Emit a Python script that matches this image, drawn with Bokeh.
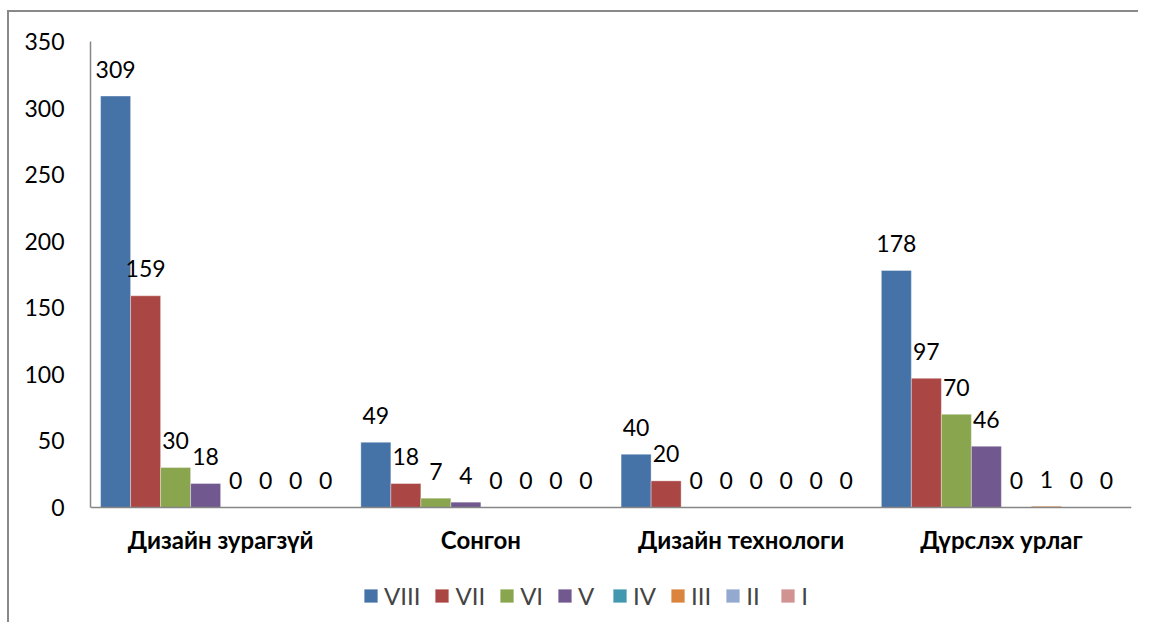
from bokeh.plotting import figure
from bokeh.models import ColumnDataSource, FactorRange, Range1d, FixedTicker, Legend, LegendItem, Span
from bokeh.transform import dodge
from bokeh.core.properties import value
from bokeh.embed import file_html
from bokeh.resources import INLINE

categories = ["Дизайн зурагзүй", "Сонгон", "Дизайн технологи", "Дүрслэх урлаг"]
series_names = ["VIII", "VII", "VI", "V", "IV", "III", "II", "I"]
VIII = [309, 49, 40, 178]
VII = [159, 18, 20, 97]
VI = [30, 7, 0, 70]
V = [18, 4, 0, 46]
IV = [0, 0, 0, 0]
III = [0, 0, 0, 1]
II = [0, 0, 0, 0]
I = [0, 0, 0, 0]
series_values = [VIII, VII, VI, V, IV, III, II, I]
y_ticks = [0, 50, 100, 150, 200, 250, 300, 350]
y_max = 350

colors = ["#4572A7", "#AA4643", "#89A54E", "#71588F", "#4198AF", "#DB843D", "#93A9CF", "#D19392"]

FONT = "Lato"

data = {"cat": categories}
for name, vals in zip(series_names, series_values):
    data[name] = vals
    data[name + "_lbl"] = [str(v) for v in vals]
source = ColumnDataSource(data)

# frame extends below the value axis so that the legend fits inside it
px_per_unit = 466 / y_max
frame_h = 612 - 29 - 4
y_min = y_max - frame_h / px_per_unit

p = figure(x_range=FactorRange(factors=categories, range_padding=0),
           y_range=Range1d(y_min, y_max),
           width=1131, height=612,
           output_backend="svg", toolbar_location=None,
           min_border_left=81, min_border_right=9,
           min_border_top=29, min_border_bottom=4)
p.styles = {"margin-left": "7px", "margin-top": "10px",
            "border-left": "2px solid #898989", "border-top": "2px solid #898989"}

bw = 0.1153
items = []
for i, name in enumerate(series_names):
    off = (i - 3.5) * bw
    r = p.vbar(x=dodge("cat", off, range=p.x_range), top=name, width=bw, source=source,
               fill_color=colors[i], line_color="white", line_width=0.6, line_alpha=0.6)
    p.text(x=dodge("cat", off, range=p.x_range), y=name, text=name + "_lbl", source=source,
           text_align="center", text_baseline="alphabetic", y_offset=-27,
           text_font=value(FONT), text_font_size="23px", text_color="black")
    items.append(LegendItem(label=name, renderers=[r]))

# category labels below the baseline
p.text(x="cat", y=0, text="cat", source=source, text_align="center",
       text_baseline="alphabetic", y_offset=32, text_font=value(FONT),
       text_font_size="24px", text_font_style="bold", text_color="black")

baseline = Span(location=0, dimension="width", line_color="#868686", line_width=1.5)
p.add_layout(baseline)

legend = Legend(items=items, orientation="horizontal", location=(272, 10),
                glyph_width=17, glyph_height=17, label_standoff=5, spacing=13,
                padding=0, margin=0, border_line_color=None, background_fill_alpha=0,
                label_text_font=FONT, label_text_font_size="24px")
p.add_layout(legend, "center")

p.xgrid.visible = False
p.ygrid.visible = False
p.outline_line_color = None
p.xaxis.visible = False

p.yaxis.ticker = FixedTicker(ticks=y_ticks)
p.yaxis.bounds = (0, y_max)
p.yaxis.axis_line_color = "#868686"
p.yaxis.axis_line_width = 1.5
p.yaxis.major_tick_out = 0
p.yaxis.major_tick_in = 0
p.yaxis.minor_tick_out = 0
p.yaxis.minor_tick_in = 0
p.yaxis.major_label_text_font = FONT
p.yaxis.major_label_text_font_size = "23px"
p.yaxis.major_label_standoff = 26
p.yaxis.major_label_text_color = "black"

open("out.html", "w").write(file_html(p, INLINE))
